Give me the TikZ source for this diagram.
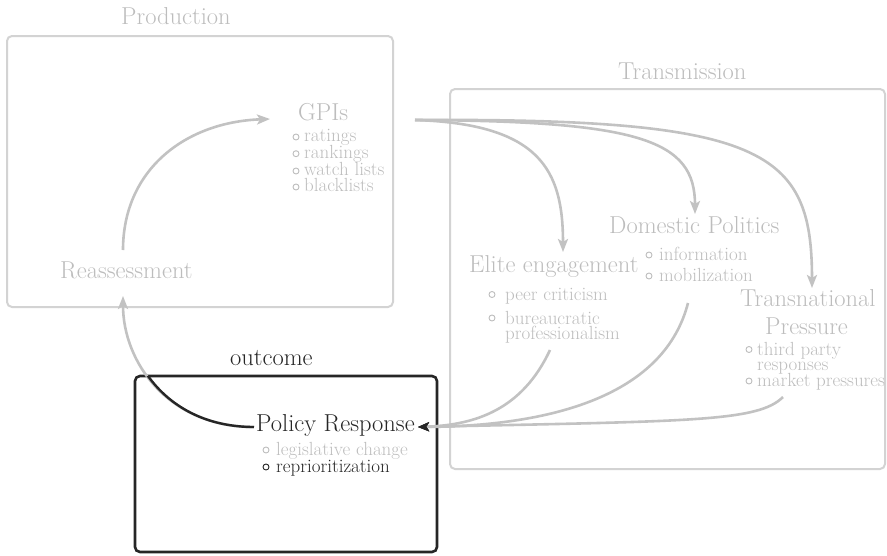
\documentclass[tikz,border=0pt]{standalone}
\usetikzlibrary{arrows.meta}
\definecolor{softtext}{HTML}{BDBDBD}
\definecolor{softline}{HTML}{C2C2C2}
\definecolor{softframe}{HTML}{D3D3D3}
\definecolor{darkink}{HTML}{262626}
\begin{document}
\begin{tikzpicture}[x=1pt,y=-1pt,
  big/.style={font=\fontsize{24.5}{28}\selectfont, inner sep=0pt, anchor=base west, text=softtext},
  item/.style={font=\fontsize{19}{20}\selectfont, inner sep=0pt, anchor=base west, text=softtext},
  bulletmark/.style={circle, draw=softtext, line width=0.9pt, minimum size=6pt, inner sep=0pt},
  frame/.style={draw=softframe, line width=2pt, rounded corners=5pt},
  flow/.style={draw=softline, line width=2.6pt, -{Stealth[length=13pt,width=10pt,inset=3pt]}},
  backflow/.style={draw=softline, line width=2.6pt, -{Stealth[length=11pt,width=9pt,inset=2.5pt,color=darkink]}},
]
\useasboundingbox (0,0) rectangle (887,555);

% ---- frames ----
\draw[frame] (7,36) rectangle (393,307);
\draw[frame] (450,89) rectangle (885,469);
\draw[draw=darkink, line width=2.6pt, rounded corners=5pt] (135,376) rectangle (437,552);

% ---- frame titles ----
\node[big] (prodlbl) at (121,24.5) {Production};
\node[big] (translbl) at (618,79) {Transmission};
\node[big, text=darkink] (outlbl) at (230,365) {outcome};

% ---- Production ----
\node[big] (gpis) at (298,120.5) {GPIs};
\node[bulletmark] (b1) at (296,137) {};
\node[item] (it1) at (304,141.5) {ratings};
\node[bulletmark] (b2) at (296,153.7) {};
\node[item] (it2) at (304,158.3) {rankings};
\node[bulletmark] (b3) at (296,171) {};
\node[item] (it3) at (304,175.5) {watch lists};
\node[bulletmark] (b4) at (296,187) {};
\node[item] (it4) at (304,191.7) {blacklists};
\node[big] (reass) at (60,278.3) {Reassessment};

% ---- Transmission ----
\node[big] (elite) at (469,272.3) {Elite engagement};
\node[bulletmark] (e1) at (492,294.5) {};
\node[item] (et1) at (505,300) {peer criticism};
\node[bulletmark] (e2) at (492,318) {};
\node[item] (et2) at (505,324) {bureaucratic};
\node[item] (et3) at (505,339.3) {professionalism};

\node[big] (domestic) at (609,233.3) {Domestic Politics};
\node[bulletmark] (d1) at (649,255) {};
\node[item] (dt1) at (659,260) {information};
\node[bulletmark] (d2) at (649,276) {};
\node[item] (dt2) at (659,281) {mobilization};

\node[big] (transA) at (740,306) {Transnational};
\node[big] (transB) at (765,334) {Pressure};
\node[bulletmark] (t1) at (749,349.5) {};
\node[item] (tt1) at (757,355.5) {third party};
\node[item] (tt2) at (757,370.5) {responses};
\node[bulletmark] (t2) at (749,381) {};
\node[item] (tt3) at (757,386) {market pressures};

% ---- outcome ----
\node[big, text=darkink] (policy) at (256,431.7) {Policy Response};
\node[bulletmark] (p1) at (266,450) {};
\node[item] (pt1) at (276,455) {legislative change};
\node[bulletmark, draw=darkink] (p2) at (266,467) {};
\node[item, text=darkink] (pt2) at (276,472) {reprioritization};

% ---- connector ends ----
\coordinate (reaOut) at (123,250);
\coordinate (reaIn) at (123,296);
\coordinate (gpiIn) at (270,119);
\coordinate (gpiOut) at (415,120);
\coordinate (eliteIn) at (563,252);
\coordinate (domIn) at (695,214);
\coordinate (transIn) at (812,288);
\coordinate (eliteOut) at (550,350);
\coordinate (domOut) at (688,303);
\coordinate (transOut) at (783,397);
\coordinate (polIn) at (418,427);
\coordinate (polOut) at (254,427);

% ---- production loop ----
\draw[flow] (reaOut) .. controls (123,170) and (185,122) .. (gpiIn);

% ---- transmission out of GPIs ----
\draw[flow] (gpiOut) .. controls (540,124) and (563,170) .. (eliteIn);
\draw[flow] (gpiOut) .. controls (640,121) and (695,140) .. (domIn);
\draw[flow] (gpiOut) .. controls (765,118) and (812,150) .. (transIn);

% ---- channels into the policy response ----
\draw[backflow] (eliteOut) .. controls (522,410) and (475,425) .. (polIn);
\draw[backflow] (domOut) .. controls (665,392) and (560,426) .. (polIn);
\draw[backflow] (transOut) .. controls (758,422) and (690,421) .. (polIn);

% ---- feedback to reassessment ----
\draw[flow] (polOut) .. controls (168,427) and (123,362) .. (reaIn);
\begin{scope}
  \clip (135,376) rectangle (437,552);
  \draw[draw=darkink, line width=2.4pt] (polOut) .. controls (168,427) and (123,362) .. (reaIn);
\end{scope}
\end{tikzpicture}
\end{document}
